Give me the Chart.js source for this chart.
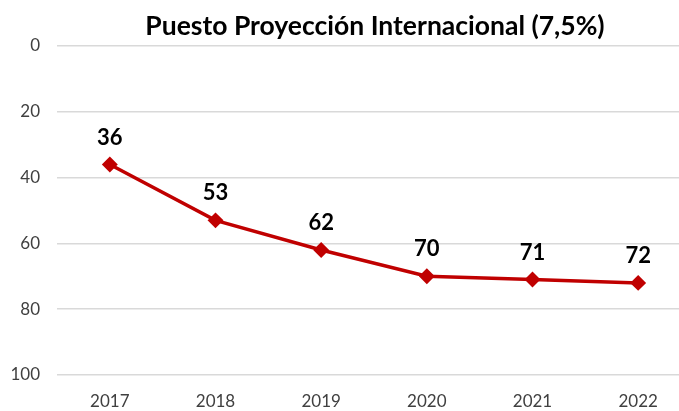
<!DOCTYPE html>
<html>
<head>
  <meta charset="utf-8">
  <title>Puesto Proyección Internacional</title>
  <script src="https://cdn.jsdelivr.net/npm/chart.js"></script>
  <style>
    html, body { margin: 0; padding: 0; overflow: hidden; background: #fff; }
    #wrap { width: 750px; height: 411px; }
  </style>
</head>
<body>
  <div id="wrap"><canvas id="myChart" width="750" height="411"></canvas></div>

  <script>
    const years = ['2017', '2018', '2019', '2020', '2021', '2022'];
    const puesto = [36, 53, 62, 70, 71, 72];
    const yTicks = [0, 20, 40, 60, 80, 100];
    const titulo = 'Puesto Proyección Internacional (7,5%)';

    const fontFamily = 'Lato, "Open Sans", sans-serif';

    // etiquetas de valor sobre cada punto + título centrado en el lienzo
    const valueLabels = {
      id: 'valueLabels',
      afterDatasetsDraw(chart) {
        const ctx = chart.ctx;
        const meta = chart.getDatasetMeta(0);
        ctx.save();
        ctx.font = 'bold 22px ' + fontFamily;
        ctx.fillStyle = '#000';
        ctx.textAlign = 'center';
        ctx.textBaseline = 'middle';
        meta.data.forEach((pt, i) => {
          ctx.fillText(chart.data.datasets[0].data[i], pt.x, pt.y - 27);
        });
        ctx.font = 'bold 26.5px ' + fontFamily;
        ctx.fillText(titulo, chart.width / 2, 26);
        ctx.restore();
      }
    };

    const ctx = document.getElementById('myChart').getContext('2d');
    const myChart = new Chart(ctx, {
      type: 'line',
      data: {
        labels: years,
        datasets: [{
          data: puesto,
          borderColor: '#C00000',
          backgroundColor: '#C00000',
          borderWidth: 3.5,
          pointStyle: 'rectRot',
          pointRadius: 5.5,
          pointHoverRadius: 5.5,
          tension: 0
        }]
      },
      options: {
        responsive: false,
        animation: false,
        layout: { padding: { left: 0, right: 59, top: 46, bottom: 0 } },
        plugins: {
          legend: { display: false },
          tooltip: { enabled: false },
          title: { display: false }
        },
        scales: {
          x: {
            offset: true,
            grid: { display: false },
            border: { display: false },
            ticks: { color: '#404040', font: { family: fontFamily, size: 17 }, padding: 8 },
            afterFit(scale) { scale.height = 36; }
          },
          y: {
            reverse: true,
            min: 0,
            max: 100,
            afterBuildTicks(scale) { scale.ticks = yTicks.map(v => ({ value: v })); },
            grid: { color: '#d9d9d9', lineWidth: 1.5, drawTicks: false },
            border: { display: false },
            ticks: { color: '#404040', font: { family: fontFamily, size: 17 }, padding: 17 },
            afterFit(scale) { scale.width = 57; }
          }
        }
      },
      plugins: [valueLabels]
    });
  </script>
</body>
</html>
